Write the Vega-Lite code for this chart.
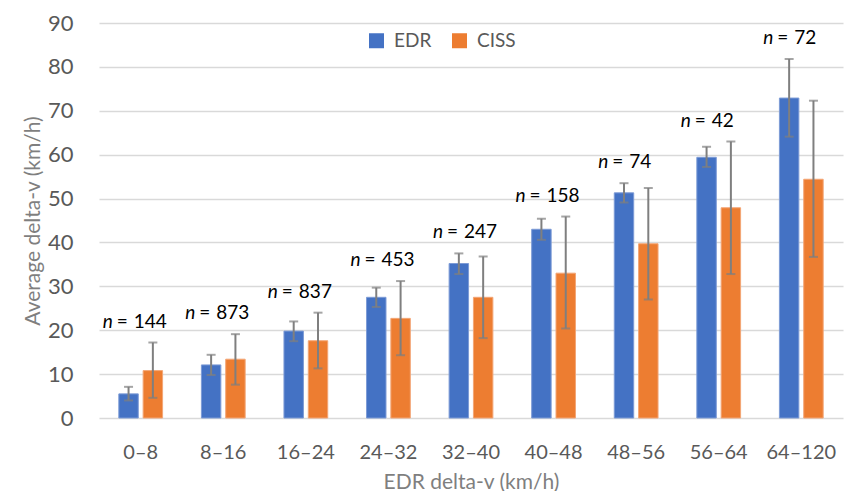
{
  "$schema": "https://vega.github.io/schema/vega-lite/v6.json",
  "width": 744,
  "height": 395,
  "autosize": {"type": "none"},
  "padding": {"left": 99, "top": 23, "right": 3, "bottom": 73},
  "background": "white",
  "config": {
    "view": {"stroke": null},
    "font": "Lato",
    "axis": {"labelFont": "Lato", "titleFont": "Lato", "labelColor": "#595959", "titleColor": "#7f7f7f", "titleFontWeight": "normal"}
  },
  "data": {
    "values": [
      {"group": "0–8", "series": "EDR", "mean": 5.5, "lo": 4.0, "hi": 7.1, "n": 144},
      {"group": "0–8", "series": "CISS", "mean": 10.8, "lo": 4.6, "hi": 17.2, "n": 144},
      {"group": "8–16", "series": "EDR", "mean": 12.1, "lo": 9.8, "hi": 14.4, "n": 873},
      {"group": "8–16", "series": "CISS", "mean": 13.4, "lo": 7.6, "hi": 19.1, "n": 873},
      {"group": "16–24", "series": "EDR", "mean": 19.8, "lo": 17.5, "hi": 22.0, "n": 837},
      {"group": "16–24", "series": "CISS", "mean": 17.6, "lo": 11.3, "hi": 24.0, "n": 837},
      {"group": "24–32", "series": "EDR", "mean": 27.5, "lo": 25.3, "hi": 29.7, "n": 453},
      {"group": "24–32", "series": "CISS", "mean": 22.7, "lo": 14.3, "hi": 31.2, "n": 453},
      {"group": "32–40", "series": "EDR", "mean": 35.2, "lo": 32.8, "hi": 37.5, "n": 247},
      {"group": "32–40", "series": "CISS", "mean": 27.5, "lo": 18.2, "hi": 36.8, "n": 247},
      {"group": "40–48", "series": "EDR", "mean": 43.0, "lo": 40.6, "hi": 45.4, "n": 158},
      {"group": "40–48", "series": "CISS", "mean": 33.0, "lo": 20.4, "hi": 45.9, "n": 158},
      {"group": "48–56", "series": "EDR", "mean": 51.3, "lo": 49.1, "hi": 53.5, "n": 74},
      {"group": "48–56", "series": "CISS", "mean": 39.7, "lo": 27.0, "hi": 52.4, "n": 74},
      {"group": "56–64", "series": "EDR", "mean": 59.4, "lo": 57.2, "hi": 61.8, "n": 42},
      {"group": "56–64", "series": "CISS", "mean": 47.9, "lo": 32.8, "hi": 63.0, "n": 42},
      {"group": "64–120", "series": "EDR", "mean": 72.9, "lo": 64.1, "hi": 81.8, "n": 72},
      {"group": "64–120", "series": "CISS", "mean": 54.4, "lo": 36.7, "hi": 72.3, "n": 72}
    ]
  },
  "encoding": {
    "x": {
      "field": "group", "type": "nominal", "sort": null,
      "scale": {"paddingInner": 0.47, "paddingOuter": 0.24},
      "axis": {"title": "EDR delta-v (km/h)", "labelAngle": 0, "labelFontSize": 20, "titleFontSize": 21, "labelPadding": 24, "titlePadding": 9, "domain": false, "ticks": false, "grid": false}
    }
  },
  "layer": [
    {
      "mark": {"type": "bar", "strokeWidth": 1},
      "encoding": {
        "xOffset": {"field": "series", "type": "nominal", "sort": ["EDR", "CISS"], "scale": {"paddingInner": 0.2, "paddingOuter": 0}},
        "y": {
          "field": "mean", "type": "quantitative",
          "scale": {"domain": [0, 90], "nice": false},
          "axis": {"title": "Average delta-v (km/h)", "values": [0,10,20,30,40,50,60,70,80,90], "labelFontSize": 22, "titleFontSize": 21, "labelPadding": 26, "titlePadding": 4, "domain": false, "ticks": false, "gridColor": "#d9d9d9", "gridWidth": 1.5}
        },
        "color": {
          "field": "series", "type": "nominal",
          "scale": {"domain": ["EDR", "CISS"], "range": ["#4472C4", "#ED7D31"]},
          "legend": {"title": null, "orient": "none", "legendX": 268, "legendY": 8, "direction": "horizontal", "symbolType": "square", "symbolSize": 225, "symbolStrokeWidth": 0, "labelFontSize": 19, "labelColor": "#595959", "labelFont": "Lato", "columnPadding": 18, "labelOffset": 8}
        },
        "stroke": {"field": "series", "type": "nominal", "scale": {"domain": ["EDR", "CISS"], "range": ["#7d9bd6", "#f3a676"]}, "legend": null}
      }
    },
    {
      "mark": {"type": "rule", "color": "#7f7f7f", "strokeWidth": 2},
      "encoding": {
        "xOffset": {"field": "series", "type": "nominal", "sort": ["EDR", "CISS"]},
        "y": {"field": "lo", "type": "quantitative"},
        "y2": {"field": "hi"}
      }
    },
    {
      "mark": {"type": "tick", "color": "#7f7f7f", "thickness": 2, "size": 9, "orient": "horizontal"},
      "encoding": {
        "xOffset": {"field": "series", "type": "nominal", "sort": ["EDR", "CISS"]},
        "y": {"field": "lo", "type": "quantitative"}
      }
    },
    {
      "mark": {"type": "tick", "color": "#7f7f7f", "thickness": 2, "size": 9, "orient": "horizontal"},
      "encoding": {
        "xOffset": {"field": "series", "type": "nominal", "sort": ["EDR", "CISS"]},
        "y": {"field": "hi", "type": "quantitative"}
      }
    },
    {
      "transform": [{"aggregate": [{"op": "max", "field": "hi", "as": "top"}], "groupby": ["group"]}],
      "mark": {"type": "text", "align": "left", "baseline": "middle", "dx": -38, "dy": -21, "fontSize": 19, "fontStyle": "italic", "color": "#000000", "font": "Lato"},
      "encoding": {
        "y": {"field": "top", "type": "quantitative"},
        "text": {"value": "n"}
      }
    },
    {
      "transform": [{"aggregate": [{"op": "max", "field": "hi", "as": "top"}], "groupby": ["group"]}],
      "mark": {"type": "text", "align": "left", "baseline": "middle", "dx": -24, "dy": -21, "fontSize": 19, "color": "#000000", "font": "Lato"},
      "encoding": {
        "y": {"field": "top", "type": "quantitative"},
        "text": {"value": "="}
      }
    },
    {
      "transform": [
        {"aggregate": [{"op": "max", "field": "hi", "as": "top"}, {"op": "max", "field": "n", "as": "n"}], "groupby": ["group"]}
      ],
      "mark": {"type": "text", "align": "left", "baseline": "middle", "dx": -7, "dy": -21, "fontSize": 19, "color": "#000000", "font": "Lato"},
      "encoding": {
        "y": {"field": "top", "type": "quantitative"},
        "text": {"field": "n", "type": "quantitative", "format": "d"}
      }
    }
  ]
}
